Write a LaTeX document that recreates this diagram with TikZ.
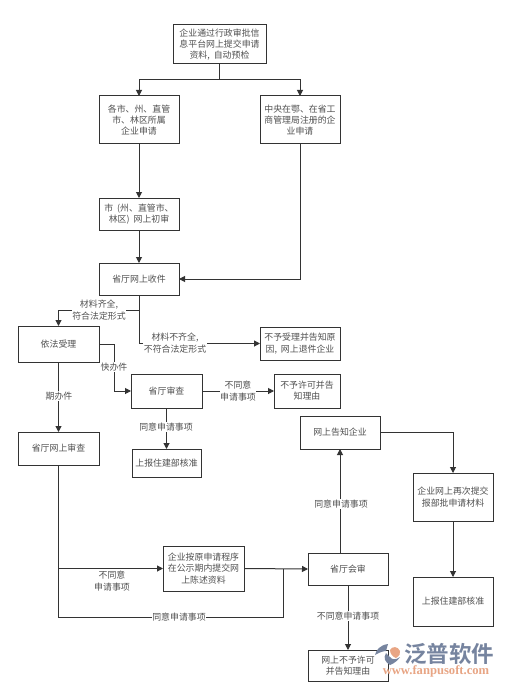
\documentclass[tikz,border=0pt]{standalone}
\usepackage{fontspec}
\setmainfont{Noto Sans CJK SC}
\newfontfamily\logofont{Noto Sans CJK SC}[BoldFont={Noto Sans CJK SC Bold}]
\newfontfamily\urlfont{Liberation Serif}
\usetikzlibrary{arrows.meta,calc}
\definecolor{ink}{HTML}{505050}
\definecolor{wire}{HTML}{333333}
\definecolor{logoblue}{HTML}{76849F}
\definecolor{logoorange}{HTML}{E8A584}
\tikzset{
  box/.style={draw=wire,line width=1pt,fill=white,anchor=north west,align=center,inner sep=0pt,
    text=ink,font=\fontsize{8.9}{11.2}\selectfont,outer sep=0pt},
  link/.style={draw=wire,line width=1pt,-{Triangle[length=6pt,width=6pt]}},
  plain/.style={draw=wire,line width=1pt},
  lab/.style={fill=white,inner sep=.6pt,align=center,text=ink,font=\fontsize{8.9}{11.2}\selectfont}
}
\begin{document}
\begin{tikzpicture}[x=1pt,y=-1pt]
\useasboundingbox[fill=white] (0,0) rectangle (505,687);
% boxes
\node[box,minimum width=93pt,minimum height=39pt] (top) at (173,25) {企业通过行政审批信\\息平台网上提交申请\\资料,\hspace{.45em}自动预检};
\node[box,minimum width=80pt,minimum height=48pt] (city) at (99,96) {各市、州、直管\\市、林区所属\\企业申请};
\node[box,minimum width=80pt,minimum height=48pt] (central) at (260,96) {中央在鄂、在省工\\商管理局注册的企\\业申请};
\node[box,minimum width=80pt,minimum height=32pt] (first) at (99,198) {市\hspace{.45em}(州、直管市、\\林区)\hspace{.45em}网上初审};
\node[box,minimum width=80pt,minimum height=32pt] (recv) at (99,263) {省厅网上收件};
\node[box,minimum width=81pt,minimum height=36pt] (accept) at (18,326) {依法受理};
\node[box,minimum width=80pt,minimum height=33pt] (reject) at (260,327) {不予受理并告知原\\因,\hspace{.45em}网上退件企业};
\node[box,minimum width=71pt,minimum height=34pt] (review) at (131,374) {省厅审查};
\node[box,minimum width=66pt,minimum height=34pt] (deny) at (274,374) {不予许可并告\\知理由};
\node[box,minimum width=80pt,minimum height=33pt] (notify) at (300,416) {网上告知企业};
\node[box,minimum width=81pt,minimum height=33pt] (online) at (18,432) {省厅网上审查};
\node[box,minimum width=69pt,minimum height=28pt] (report) at (132,449) {上报住建部核准};
\node[box,minimum width=80pt,minimum height=48pt] (resub) at (413,473) {企业网上再次提交\\报部批申请材料};
\node[box,minimum width=80pt,minimum height=49pt] (report2) at (413,577) {上报住建部核准};
\node[box,minimum width=81pt,minimum height=45pt] (state) at (163,546) {企业按原申请程序\\在公示期内提交网\\上陈述资料};
\node[box,minimum width=80pt,minimum height=32pt] (joint) at (308,553) {省厅会审};
\node[box,minimum width=80pt,minimum height=31pt] (final) at (308,650) {网上不予许可\\并告知理由};
% junctions
\coordinate (split) at ($(top.south)+(0,16)$);
\coordinate (recvsplit) at ($(recv.south)+(0,15)$);
\coordinate (tap) at (online.south |- state.west);
\coordinate (low) at ($(online.south)+(0,152.5)$);
\coordinate (merge) at (283,569);
\coordinate (jointtop) at (notify.south |- joint.north);
\coordinate (fast) at (114.5,344);
% connectors
\draw[plain] (top.south) -- (split);
\draw[link] (split) -| (city.north);
\draw[link] (split) -| (central.north);
\draw[link] (city.south) -- (first.north);
\draw[link] (first.south) -- (recv.north);
\draw[link] (central.south) |- (recv.east);
\draw[link] (recv.south) -- (recvsplit) -| (accept.north);
\draw[link] (recvsplit) |- (reject.west);
\draw[link] (accept.east |- fast) -| (review.west -| fast) -- (review.west);
\draw[link] (accept.south) -- (online.north);
\draw[link] (review.east) -- (deny.west);
\draw[link] (review.south) -- (review.south |- report.north);
\draw[link] (jointtop) -- (notify.south);
\draw[link] (notify.east) -| (resub.north);
\draw[link] (resub.south) -- (report2.north);
\draw[link] (joint.south) -- (final.north);
\draw[plain] (online.south) -- (low) -| (merge);
\draw[link] (tap) -- (state.west);
\draw[link] (state.east) -- (joint.west);
% labels
\node[lab] (l1) at (99,310) {材料齐全,\\符合法定形式};
\node[lab] (l2) at (175,343) {材料不齐全,\\不符合法定形式};
\node[lab] (l3) at (114,367) {快办件};
\node[lab] (l4) at (59,396) {期办件};
\node[lab] (l5) at (238,391) {不同意\\申请事项};
\node[lab] (l6) at (166,427) {同意申请事项};
\node[lab] (l7) at (341,504) {同意申请事项};
\node[lab] (l8) at (348,616) {不同意申请事项};
\node[lab,fill=none] (l9) at (112,581) {不同意\\申请事项};
\node[lab] (l10) at (179,617) {同意申请事项};
% logo
\fill[logoblue] (388,644) .. controls (380,645) and (376,650) .. (375,655) .. controls (380,652) and (384,651) .. (386,651) -- cycle;
\fill[logoblue] (386,653) .. controls (383,658) and (385,662) .. (390,665) .. controls (395,663) and (398,660) .. (400,657) .. controls (396,660) and (392,660) .. (390,657) -- cycle;
\fill[logoorange] (390,650) .. controls (392,646) and (398,646) .. (400,651) .. controls (401,654) and (399,656) .. (396,658) .. controls (393,657) and (390,654) .. (390,650) -- cycle;
\node[inner sep=0pt,text=logoblue,font=\logofont\bfseries\fontsize{22.5}{24}\selectfont] (brand) at (449,654) {泛普软件};
\node[inner sep=0pt,text=logoorange,font=\urlfont\bfseries\fontsize{12.6}{13}\selectfont] (url) at (436,671.5) {www.fanpusoft.com};
\end{tikzpicture}
\end{document}
